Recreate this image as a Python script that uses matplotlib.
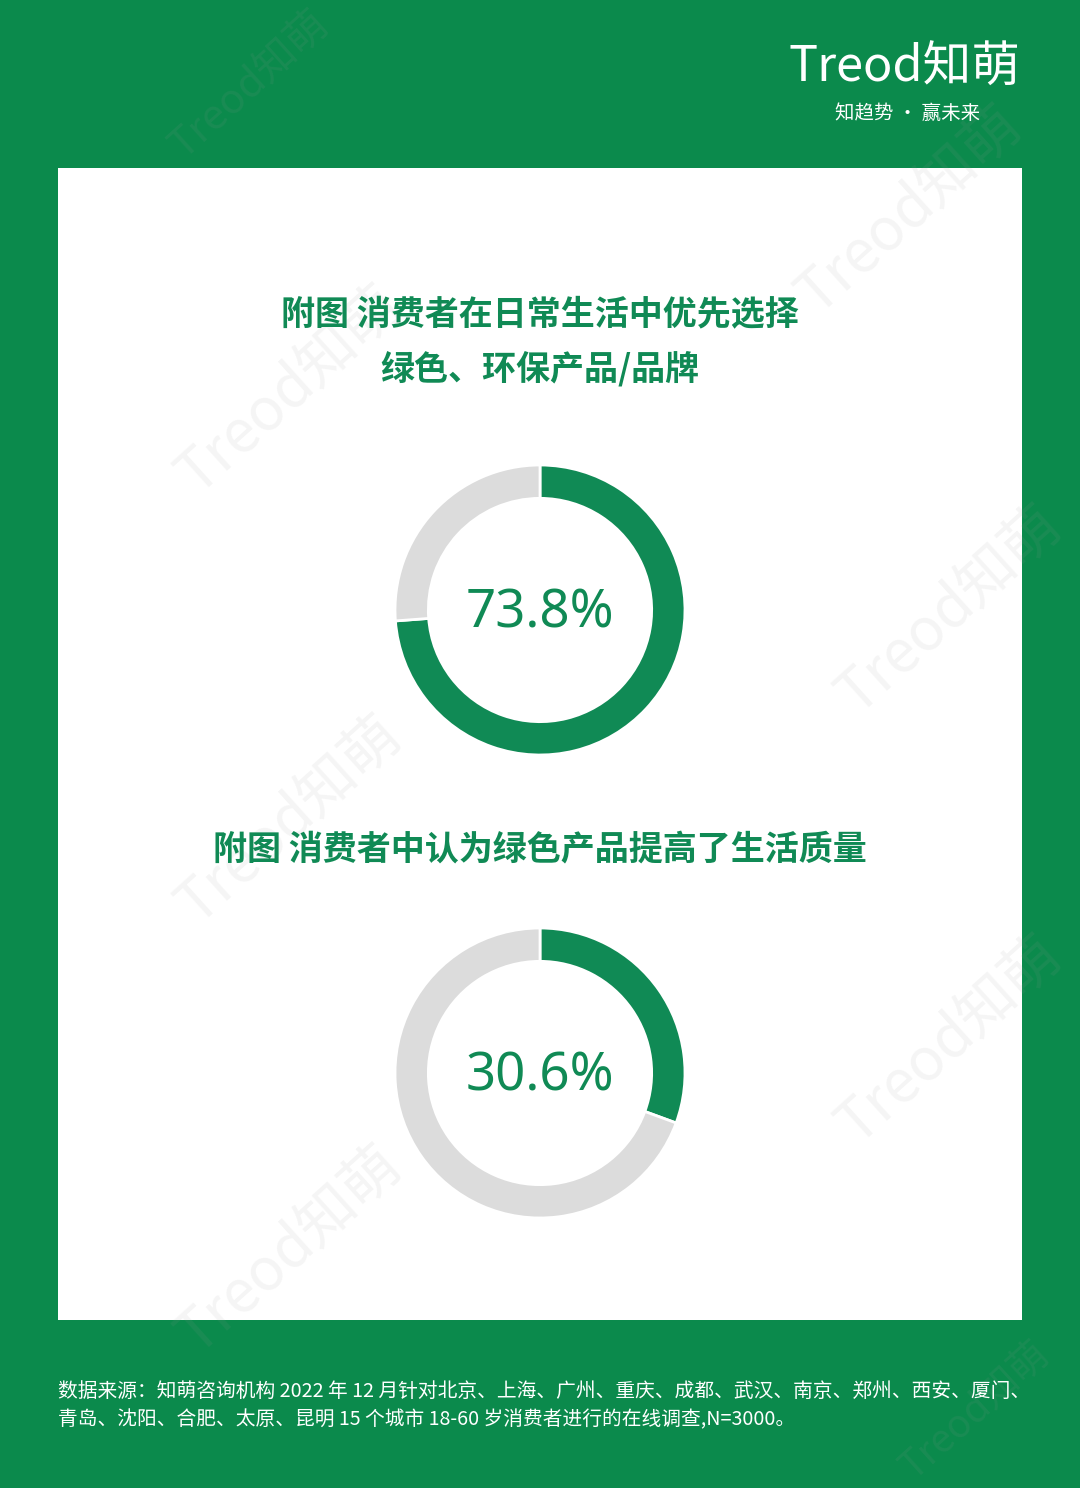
import matplotlib.pyplot as plt
from matplotlib.patches import Rectangle

plt.rcParams['font.family'] = ['Noto Sans CJK SC', 'DejaVu Sans']

# Data
titles = ['附图 消费者在日常生活中优先选择\n绿色、环保产品/品牌',
          '附图 消费者中认为绿色产品提高了生活质量']
shares = [73.8, 30.6]
source = ('数据来源：知萌咨询机构 2022 年 12 月针对北京、上海、广州、重庆、成都、武汉、南京、郑州、西安、厦门、\n'
          '青岛、沈阳、合肥、太原、昆明 15 个城市 18-60 岁消费者进行的在线调查,N=3000。')

GREEN_BG = '#0b8a4c'
GREEN = '#108a55'
GREY = '#dcdcdc'
W, H = 1080, 1488

fig = plt.figure(figsize=(W / 100, H / 100), dpi=100)
fig.patch.set_facecolor(GREEN_BG)

# white panel
fig.patches.append(Rectangle((58 / W, 1 - 1320 / H), (1022 - 58) / W, (1320 - 168) / H,
                             transform=fig.transFigure, facecolor='white', edgecolor='none', zorder=-5))

# faint watermarks
marks = [(250, 85, 30), (910, 210, 42), (290, 390, 42), (950, 610, 42), (290, 820, 42),
         (950, 1040, 42), (290, 1250, 42), (975, 1410, 28)]
for x, y, fs in marks:
    fig.text(x / W, 1 - y / H, 'Treod知萌', fontsize=fs, rotation=42, color='#9a9a9a', alpha=0.1,
             ha='center', va='center', zorder=-1)

# logo
fig.text(1020 / W, 1 - 68 / H, 'Treod知萌', fontsize=35, color='white', ha='right', va='center')
fig.text(908 / W, 1 - 113 / H, '知趋势 · 赢未来', fontsize=14, color='white', ha='center', va='center')

# titles
fig.text(540 / W, 1 - 342 / H, titles[0], fontsize=24.5, color=GREEN, ha='center', va='center',
         linespacing=1.65, fontweight='bold')
fig.text(540 / W, 1 - 849 / H, titles[1], fontsize=24.5, color=GREEN, ha='center', va='center',
         fontweight='bold')

# donuts
centers = [(540, 610), (540, 1073)]
R = 145
for (cx, cy), v in zip(centers, shares):
    ax = fig.add_axes([(cx - R) / W, 1 - (cy + R) / H, 2 * R / W, 2 * R / H], zorder=2)
    ax.pie([v, 100 - v], colors=[GREEN, GREY], startangle=90, counterclock=False,
           radius=1, wedgeprops=dict(width=0.23, edgecolor='white', linewidth=2))
    ax.set_xlim(-1.0, 1.0)
    ax.set_ylim(-1.0, 1.0)
    ax.set_aspect('equal')
    ax.axis('off')
    ax.text(0, -0.03, f'{v:.1f}%', fontsize=38, color=GREEN, ha='center', va='center',
            family=['Noto Sans', 'DejaVu Sans'])

# footer
fig.text(58 / W, 1 - 1406 / H, source, fontsize=14.2, color='white', ha='left', va='center',
         linespacing=1.45)

fig.savefig('out.png', dpi=100, facecolor=fig.get_facecolor())
